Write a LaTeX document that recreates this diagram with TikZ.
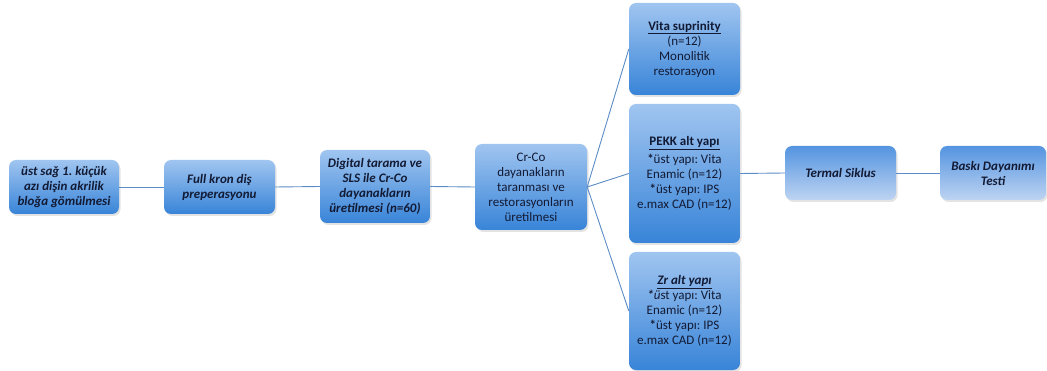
\documentclass[tikz,border=0pt]{standalone}
\usepackage{fontspec}
\setmainfont{Carlito}
\usetikzlibrary{shadows}
\definecolor{boxtop}{RGB}{160,197,240}
\definecolor{boxbot}{RGB}{56,132,216}
\definecolor{rtop}{RGB}{84,148,224}
\definecolor{rbot}{RGB}{190,212,242}
\definecolor{txt}{RGB}{18,26,52}
\definecolor{link}{RGB}{92,140,196}
\begin{document}
\frenchspacing
\begin{tikzpicture}[x=1pt,y=-1pt,
  box/.style={rectangle, rounded corners=7pt, top color=boxtop, bottom color=boxbot,
    draw=none, text=txt, align=center, inner sep=2pt,
    font=\fontsize{13}{15}\selectfont,
    drop shadow={opacity=0.22, shadow xshift=1.5pt, shadow yshift=-2pt}},
  bi/.style={font=\fontsize{13}{15}\selectfont\bfseries\itshape},
  rbox/.style={box, top color=rtop, bottom color=rbot},
  link/.style={draw=link, line width=0.9pt}]
\useasboundingbox (0,0) rectangle (1047,371);
\node[box, bi, minimum width=110, minimum height=54] (a) at (64,187)
  {üst sağ 1. küçük\\azı dişin akrilik\\bloğa gömülmesi};
\node[box, bi, minimum width=111, minimum height=54] (b) at (219.5,187)
  {Full kron diş\\preperasyonu};
\node[box, bi, minimum width=110, minimum height=73] (c) at (375,186.5)
  {Digital tarama ve\\SLS ile Cr-Co\\dayanakların\\üretilmesi (n=60)};
\node[box, minimum width=112, minimum height=86] (d) at (531,187)
  {Cr-Co\\dayanakların\\taranması ve\\restorasyonların\\üretilmesi};
\node[box, minimum width=111, minimum height=92] (e) at (684.5,49)
  {\textbf{\underline{Vita suprinity}}\\(n=12)\\Monolitik\\restorasyon};
\node[box, minimum width=111, minimum height=139] (f) at (684.5,173.5)
  {\textbf{\underline{PEKK alt yapı}}\\[3pt]\textbf{*}üst yapı: Vita\\Enamic (n=12)\\\textbf{*}üst yapı: IPS\\e.max CAD (n=12)};
\node[box, minimum width=111, minimum height=118] (g) at (684.5,311)
  {\textbf{\textit{\underline{Zr alt yapı}}}\\\textbf{\textit{*}}\textit{ü}st yapı: Vita\\Enamic (n=12)\\\textbf{*}üst yapı: IPS\\e.max CAD (n=12)};
\node[rbox, bi, minimum width=111, minimum height=54] (h) at (840.5,173)
  {Termal Siklus};
\node[rbox, bi, minimum width=106, minimum height=54] (i) at (993,173)
  {Baskı Dayanımı\\Testi};
\draw[link] (a.east) -- (b.west);
\draw[link] (b.east) -- (c.west);
\draw[link] (c.east) -- (d.west);
\draw[link] (d.east) -- (e.west);
\draw[link] (d.east) -- (f.west);
\draw[link] (d.east) -- (g.west);
\draw[link] (f.east) -- (h.west);
\draw[link] (h.east) -- (i.west);
\end{tikzpicture}
\end{document}
